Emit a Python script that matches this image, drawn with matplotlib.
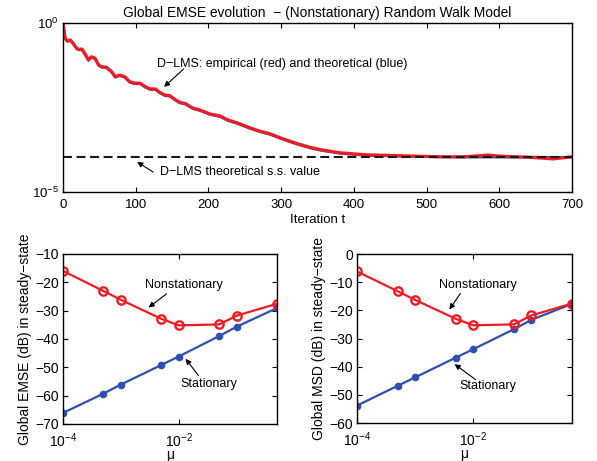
import matplotlib
matplotlib.use("Agg")
import matplotlib.pyplot as plt
import numpy as np

plt.rcParams['font.family'] = ['Liberation Sans', 'DejaVu Sans']

# --- top panel: global EMSE vs iteration (log10 of EMSE) ---
iters = [0, 3, 6, 10, 14, 19, 22, 26, 30, 35, 39, 44, 49, 53, 60, 67, 72, 78, 85,
         92, 99, 106, 113, 120, 127, 133, 140, 147, 154, 161, 168, 179, 188, 202,
         216, 227, 239, 257, 271, 285, 303, 321, 340, 355, 381, 418, 454, 486,
         519, 550, 583, 610, 640, 674, 700]
emse_emp_log = [0.0, 0.45, 0.53, 0.50, 0.60, 0.75, 0.78, 0.77, 0.90, 1.09, 1.00,
                1.04, 1.24, 1.29, 1.31, 1.44, 1.59, 1.54, 1.59, 1.74, 1.78, 1.78,
                1.88, 1.95, 1.95, 2.05, 2.13, 2.15, 2.26, 2.35, 2.38, 2.52, 2.57,
                2.69, 2.75, 2.87, 2.95, 3.10, 3.20, 3.28, 3.43, 3.56, 3.68, 3.75,
                3.84, 3.90, 3.92, 3.94, 3.96, 3.96, 3.91, 3.95, 3.97, 4.02, 3.96]
emse_th_log = [0.0, 0.46, 0.55, 0.52, 0.62, 0.77, 0.80, 0.79, 0.92, 1.11, 1.02,
               1.06, 1.26, 1.31, 1.33, 1.46, 1.61, 1.56, 1.61, 1.76, 1.80, 1.80,
               1.90, 1.97, 1.97, 2.07, 2.15, 2.17, 2.28, 2.37, 2.40, 2.54, 2.59,
               2.71, 2.77, 2.89, 2.97, 3.12, 3.22, 3.30, 3.45, 3.58, 3.70, 3.77,
               3.86, 3.92, 3.94, 3.95, 3.96, 3.97, 3.97, 3.97, 3.97, 3.97, 3.97]
ss_log = 3.97

# --- bottom panels: steady-state values vs step size ---
mu = [1e-4, 5e-4, 1e-3, 5e-3, 1e-2, 5e-2, 1e-1, 5e-1]
emse_nonstat = [-16.0, -23.1, -26.2, -32.9, -35.2, -34.9, -31.8, -27.6]
emse_stat = [-66.1, -59.3, -56.1, -49.2, -46.2, -39.0, -35.7, -29.1]
msd_nonstat = [-6.2, -13.2, -16.3, -23.0, -25.3, -25.0, -21.8, -17.6]
msd_stat = [-53.8, -46.8, -43.8, -36.8, -33.8, -26.7, -23.4, -17.7]

red = '#ee1c24'
blue = '#2f4fae'

fig = plt.figure(figsize=(5.97, 4.61), dpi=100)


def style_axes(ax, size):
    ax.tick_params(direction='in', top=True, right=True, length=3.5, width=0.8,
                   labelsize=size)
    ax.tick_params(axis='x', pad=5)
    ax.tick_params(axis='y', pad=3)
    ax.minorticks_off()
    for s in ax.spines.values():
        s.set_linewidth(1.0)


def arrow(ax, tail, head):
    ax.annotate('', xy=head, xytext=tail,
                arrowprops=dict(arrowstyle='-|>', color='k', lw=0.8,
                                mutation_scale=8, shrinkA=0, shrinkB=0))


# Top axes
ax1 = fig.add_axes([0.1055, 0.5835, 0.8525, 0.3666])
ax1.semilogy(iters, 10.0 ** -np.array(emse_th_log), color=blue, lw=1.8)
ax1.semilogy(iters, 10.0 ** -np.array(emse_emp_log), color=red, lw=2.3)
ax1.axhline(10.0 ** -ss_log, color='#1a1a1a', lw=1.5, dashes=(4.3, 2.2))
ax1.set_xlim(0, 700)
ax1.set_ylim(1e-5, 1e0)
ax1.set_xticks(range(0, 701, 100))
ax1.set_yticks([1e-5, 1e0])
style_axes(ax1, 9.5)
ax1.minorticks_off()
ax1.set_xlabel('Iteration t', fontsize=9.5, labelpad=2)
ax1.set_title('Global EMSE evolution  \u2212 (Nonstationary) Random Walk Model',
              fontsize=9.9, pad=4)
ax1.text(129, 10 ** -1.21, 'D\u2212LMS: empirical (red) and theoretical (blue)',
         fontsize=9, ha='left', va='center')
arrow(ax1, (166, 10 ** -1.36), (139, 10 ** -1.89))
ax1.text(133, 10 ** -4.41, 'D\u2212LMS theoretical s.s. value',
         fontsize=9, ha='left', va='center')
arrow(ax1, (124, 10 ** -4.41), (102, 10 ** -4.11))

# Bottom left: EMSE
ax2 = fig.add_axes([0.1055, 0.0803, 0.3585, 0.369])
ax2.semilogx(mu, emse_stat, color=blue, lw=1.6, marker='o', ms=4.5)
ax2.semilogx(mu, emse_nonstat, color=red, lw=1.6, marker='o', ms=6,
             mfc='none', mew=1.7)
ax2.set_xlim(1e-4, 0.5)
ax2.set_ylim(-70, -10)
ax2.set_xticks([1e-4, 1e-2])
ax2.set_yticks(range(-70, -9, 10))
style_axes(ax2, 10)
ax2.set_xlabel('\u03bc', fontsize=10, labelpad=-1)
ax2.set_ylabel('Global EMSE (dB) in steady\u2212state', fontsize=10, labelpad=2)
ax2.text(10 ** -1.91, -21, 'Nonstationary', fontsize=9, ha='center', va='center')
arrow(ax2, (10 ** -2.21, -24.1), (10 ** -2.52, -28.9))
ax2.text(10 ** -1.48, -56, 'Stationary', fontsize=9, ha='center', va='center')
arrow(ax2, (10 ** -1.66, -52.9), (10 ** -1.88, -47.0))

# Bottom right: MSD
ax3 = fig.add_axes([0.598, 0.0824, 0.360, 0.3666])
ax3.semilogx(mu, msd_stat, color=blue, lw=1.6, marker='o', ms=4.5)
ax3.semilogx(mu, msd_nonstat, color=red, lw=1.6, marker='o', ms=6,
             mfc='none', mew=1.7)
ax3.set_xlim(1e-4, 0.5)
ax3.set_ylim(-60, 0)
ax3.set_xticks([1e-4, 1e-2])
ax3.set_yticks(range(-60, 1, 10))
style_axes(ax3, 10)
ax3.set_xlabel('\u03bc', fontsize=10, labelpad=-1)
ax3.set_ylabel('Global MSD (dB) in steady\u2212state', fontsize=10, labelpad=2)
ax3.text(10 ** -1.92, -11.0, 'Nonstationary', fontsize=9, ha='center', va='center')
arrow(ax3, (10 ** -2.22, -14.0), (10 ** -2.41, -19.7))
ax3.text(10 ** -1.75, -47.0, 'Stationary', fontsize=9, ha='center', va='center')
arrow(ax3, (10 ** -1.96, -44.6), (10 ** -2.32, -39.1))

fig.savefig('out.png', dpi=100)
